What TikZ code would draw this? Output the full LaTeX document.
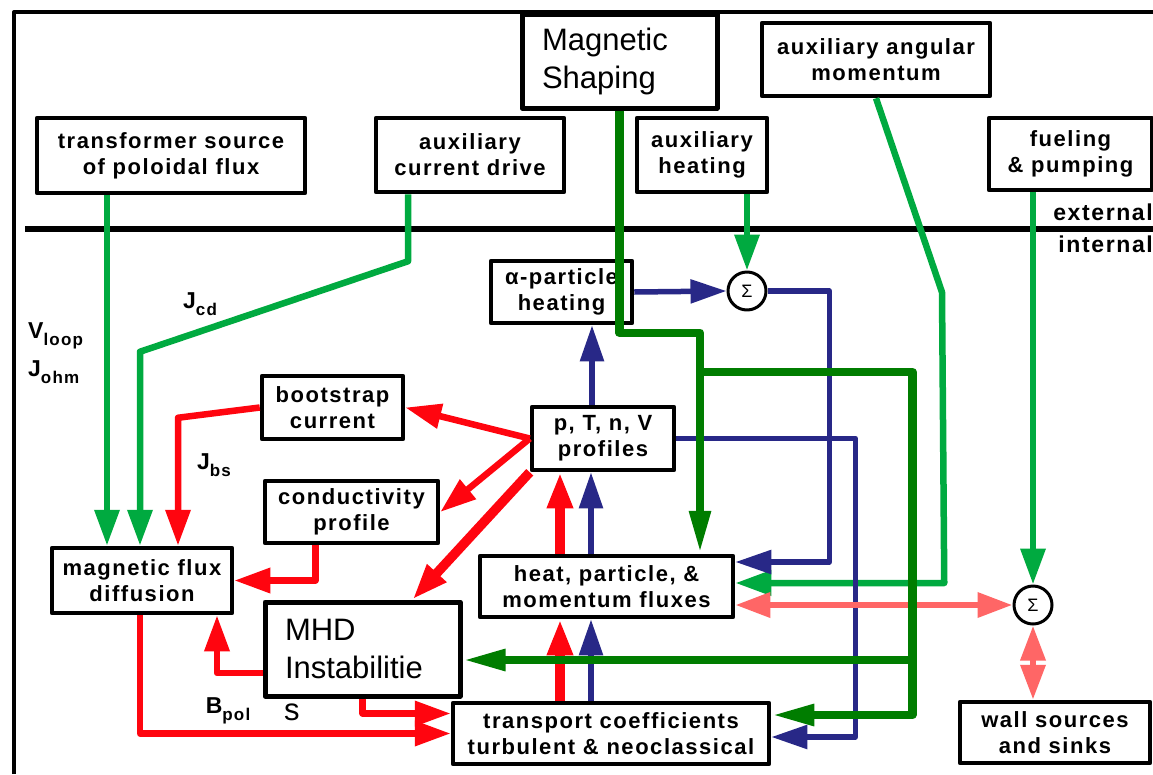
\documentclass[tikz,border=0pt]{standalone}
\usepackage{fontspec}
\setmainfont{Liberation Sans}
\newfontfamily\lsfont[LetterSpace=7]{Liberation Sans}
\usetikzlibrary{arrows.meta,calc}
\definecolor{lgreen}{RGB}{0,170,64}
\definecolor{dgreen}{RGB}{0,125,0}
\definecolor{fred}{RGB}{255,5,15}
\definecolor{fblue}{RGB}{40,40,135}
\definecolor{fpink}{RGB}{255,102,102}
\newcommand\lsub[1]{\raisebox{-0.32em}{\fontsize{17}{17}\selectfont #1}}
\begin{document}
\begin{tikzpicture}[x=1pt,y=-1pt,line join=round,
  box/.style={draw,line width=4.5pt,fill=white,inner sep=0pt,align=center,
    font=\lsfont\bfseries\fontsize{22}{26}\selectfont},
  bigbox/.style={draw,line width=5pt,fill=white,inner ysep=0pt,inner xsep=20pt,align=left,
    font=\fontsize{31}{38}\selectfont},
  sumnode/.style={draw,circle,line width=3pt,fill=white,minimum size=38pt,inner sep=0pt,
    font=\fontsize{18}{18}\selectfont},
  lbl/.style={inner sep=0pt,font=\lsfont\bfseries\fontsize{23}{26}\selectfont},
  lgline/.style={draw=lgreen,line width=6.5pt,-{Triangle[length=36pt,width=24pt]}},
  dgline/.style={draw=dgreen,line width=8.5pt,-{Triangle[length=43pt,width=20pt]}},
  redline/.style={draw=fred,line width=6.5pt,-{Triangle[length=36pt,width=24pt]}},
  blueline/.style={draw=fblue,line width=5.5pt,-{Triangle[length=36pt,width=23pt]}},
  pinkline/.style={draw=fpink,line width=6.5pt,{Triangle[length=35pt,width=24pt]}-{Triangle[length=35pt,width=24pt]}}
]
\useasboundingbox (0,0) rectangle (1153,774);
\fill[white] (0,0) rectangle (1153,774);
% frame and external/internal divider
\draw[line width=4pt] (14,774) -- (14,12) -- (1153,12);
\draw[line width=6pt] (25,229) -- (1153,229);
\node[lbl,anchor=east] (ext) at (1153,212) {external};
\node[lbl,anchor=east] (int) at (1153,244) {internal};

% external boxes
\node[box,minimum width=268pt,minimum height=75pt] (tsrc) at (171,155.5) {transformer source\\of poloidal flux};
\node[box,minimum width=188pt,minimum height=74pt] (acd) at (470,155) {auxiliary\\current drive};
\node[bigbox,text width=155pt,minimum height=94pt] (mshape) at (619.5,61) {Magnetic\\Shaping};
\node[box,minimum width=130pt,minimum height=74pt] (aheat) at (702,155) {auxiliary\\heating};
\node[box,minimum width=228pt,minimum height=73pt] (aang) at (876,59.5) {auxiliary angular\\momentum};
\node[box,minimum width=163pt,minimum height=72pt] (fuel) at (1070.5,154) {fueling\\\& pumping};

% internal boxes
\node[box,minimum width=141pt,minimum height=62pt] (alpha) at (561.5,292) {α-particle\\heating};
\node[sumnode] (sig1) at (747,291) {Σ};
\node[box,minimum width=141pt,minimum height=63pt] (boot) at (332.5,407.5) {bootstrap\\current};
\node[box,minimum width=142pt,minimum height=63pt] (prof) at (603,438.5) {p, T, n, V\\profiles};
\node[box,minimum width=173pt,minimum height=62pt] (cond) at (351.5,512) {conductivity\\profile};
\node[box,minimum width=180pt,minimum height=65pt] (mflux) at (142,580.5) {magnetic flux\\diffusion};
\node[box,minimum width=253pt,minimum height=61pt] (heat) at (606.5,586.5) {heat, particle, \&\\momentum fluxes};
\node[sumnode] (sig2) at (1033,605) {Σ};
\node[bigbox,text width=155pt,minimum height=94pt] (mhd) at (362.5,649) {MHD\\Instabilitie};
\node[inner sep=0pt,anchor=west,font=\fontsize{31}{38}\selectfont] (mhds) at (284,712) {s};
\node[box,minimum width=316pt,minimum height=61pt] (trans) at (611,733.5) {transport coefficients\\turbulent \& neoclassical};
\node[box,minimum width=190pt,minimum height=61pt] (wall) at (1055,732.5) {wall sources\\and sinks};

% labels
\node[lbl,anchor=west] (vloop) at (28,336) {V\lsub{loop}};
\node[lbl,anchor=west] (johm) at (28,372) {J\lsub{ohm}};
\node[lbl] (jcd) at (200,304) {J\lsub{cd}};
\node[lbl] (jbs) at (214,465) {J\lsub{bs}};
\node[lbl] (bpol) at (228,711) {B\lsub{pol}};

% light green (external sources)
\draw[lgline] ($(tsrc.south)+(-64,0)$) -- ($(mflux.north)+(-35,0)$);
\draw[lgline] ($(acd.south)+(-62,0)$) -- ++(0,67) -- ($(mflux.north)+(-2,-194)$) -- ($(mflux.north)+(-2,0)$);
\draw[lgline] ($(aheat.south)+(45,0)$) -- (sig1.north);
\draw[lgline] (aang.south) -- ($(aang.south)+(66,194)$) -- ($(heat.east)+(209,-3.5)$) -- ($(heat.east)+(0,-3.5)$);
\draw[lgline] ($(fuel.south)+(-37.5,0)$) -- (sig2.north);

% blue
\draw[blueline] ($(prof.north)+(-11,0)$) -- ($(alpha.south)+(30.5,0)$);
\draw[blueline] (alpha.east) -- (sig1.west);
\draw[blueline] (sig1.east) -| ($(heat.east)+(94,-24.5)$) -- ($(heat.east)+(0,-24.5)$);
\draw[blueline] (prof.east) -| ($(trans.east)+(84,3.5)$) -- ($(trans.east)+(0,3.5)$);
\draw[blueline] ($(trans.north)+(-20,0)$) -- ($(heat.south)+(-15.5,0)$);
\draw[blueline] ($(heat.north)+(-15.5,0)$) -- ($(prof.south)+(-12,0)$);

% red
\draw[redline] (boot.west) -- ($(mflux.north)+(36,-128)$) -- ($(mflux.north)+(36,0)$);
\draw[redline] ($(cond.south)+(-36,0)$) |- (mflux.east);
\draw[redline] (prof.west) -- (boot.east);
\draw[redline] (prof.west) -- (cond.east);
\draw[redline,line width=9.5pt] (prof.south west) -- ($(mhd.north)+(50,0)$);
\draw[redline,line width=10.5pt] ($(trans.north)+(-51,0)$) -- ($(heat.south)+(-46.5,0)$);
\draw[redline,line width=10.5pt] ($(heat.north)+(-46.5,0)$) -- ($(prof.south)+(-43,0)$);
\draw[redline] ($(mhd.west)+(0,24)$) -| ($(mflux.south)+(75,0)$);
\draw[redline] ($(mflux.south)+(-2,0)$) |- (trans.west);
\draw[redline] (mhd.south) |- ($(trans.west)+(0,-20)$);

% pink
\draw[pinkline] ($(heat.east)+(0,18.5)$) -- (sig2.west);
\draw[pinkline] (sig2.south) -- ($(wall.north)+(-22,0)$);

% dark green (magnetic shaping)
\draw[dgline] (mshape.south) |- ($(heat.north)+(93.5,-221)$) -- ($(heat.north)+(93.5,0)$);
\draw[dgline] ($(heat.north)+(93.5,-182)$) -| ($(trans.east)+(141,-18.5)$) -- ($(trans.east)+(0,-18.5)$);
\draw[dgline] ($(trans.east)+(141,-73.5)$) -- ($(mhd.east)+(0,11)$);
\end{tikzpicture}
\end{document}
